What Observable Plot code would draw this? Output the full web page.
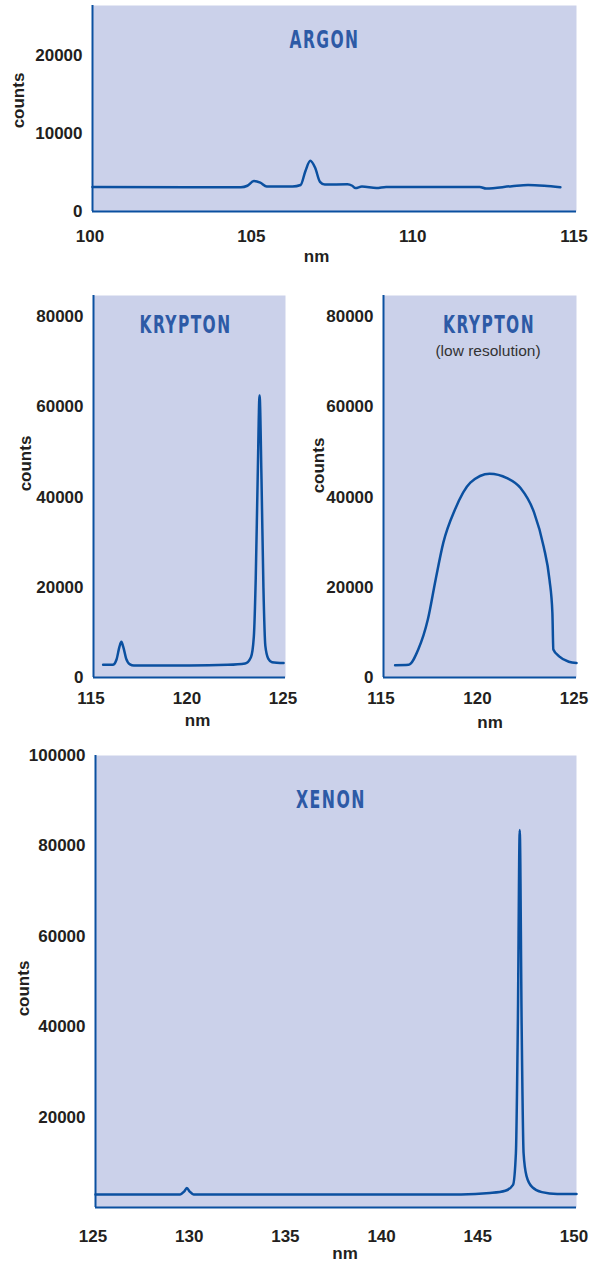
<!DOCTYPE html>
<html>
<head>
<meta charset="utf-8">
<script src="https://cdn.jsdelivr.net/npm/d3@7"></script>
<script src="https://cdn.jsdelivr.net/npm/@observablehq/plot@0.6"></script>
<style>
  html, body { margin: 0; padding: 0; background: #ffffff; }
  #root { position: relative; width: 589px; height: 1263px; overflow: hidden; }
  #root > div { position: absolute; }
</style>
</head>
<body>
<div id="root"></div>
<script>
// ---------- data ----------
const argonNm = [100.0, 104.6, 104.8, 105.0, 105.2, 105.4, 106.2, 106.45, 106.6, 106.75, 106.9, 107.05, 107.2, 107.9, 108.05, 108.15, 108.35, 108.8, 109.1, 112.0, 112.2, 113.0, 113.5, 114.0, 114.5];
const argonCounts = [3150, 3100, 3300, 3900, 3700, 3200, 3200, 3400, 5200, 6500, 5600, 3800, 3450, 3500, 3300, 3000, 3200, 3000, 3150, 3150, 2950, 3250, 3400, 3300, 3100];

const kryptonNm = [115.5, 116.0, 116.2, 116.35, 116.45, 116.55, 116.7, 116.9, 117.1, 120.0, 122.0, 122.9, 123.2, 123.35, 123.45, 123.55, 123.65, 123.75, 123.85, 123.95, 124.1, 124.3, 124.9];
const kryptonCounts = [2800, 2800, 4000, 6800, 7900, 6800, 4200, 2900, 2650, 2650, 2800, 3100, 4500, 9000, 22000, 44000, 62500, 44000, 20000, 7000, 4200, 3400, 3200];

const kryptonLowNm = [115.6, 116.3, 116.8, 117.3, 117.7, 118.1, 118.7, 119.5, 120.5, 121.4, 122.1, 122.8, 123.3, 123.6, 123.75, 123.8, 124.1, 124.6, 125.0];
const kryptonLowCounts = [2700, 2800, 6200, 12900, 21700, 29900, 37200, 43200, 45200, 44200, 42000, 36600, 29000, 21700, 14400, 6200, 4700, 3500, 3200];

const xenonNm = [125.0, 129.4, 129.6, 129.75, 129.9, 130.1, 144.0, 145.5, 146.3, 146.7, 146.85, 146.95, 147.05, 147.15, 147.25, 147.4, 147.7, 148.2, 149.0, 150.0];
const xenonCounts = [2900, 2900, 3500, 4300, 3500, 2900, 2900, 3200, 3700, 5000, 12000, 40000, 83500, 40000, 12000, 7000, 4500, 3400, 3000, 3000];

const argonXTicks = [100, 105, 110, 115];
const argonYTicks = [0, 10000, 20000];
const kryptonXTicks = [115, 120, 125];
const kryptonYTicks = [0, 20000, 40000, 60000, 80000];
const xenonXTicks = [125, 130, 135, 140, 145, 150];
const xenonYTicks = [20000, 40000, 60000, 80000, 100000];

// ---------- style ----------
const BG = "#cbd1ea", LINE = "#0b50a0", TITLE = "#2d5aa6", INK = "#231f20";
const TICKFONT = "'Liberation Sans', Arial, Helvetica, sans-serif";
const TITLEFONT = "'DejaVu Sans Condensed', 'Liberation Sans', sans-serif";

function panel(o) {
  const data = o.nm.map((x, i) => ({x, y: o.counts[i]}));
  const marks = [
    Plot.frame({fill: BG, stroke: "none"}),
    Plot.axisX({ticks: o.xTicks, tickSize: 0, tickPadding: o.xPad, dx: -2.5, label: null, tickFormat: d => String(d), fill: INK}),
    Plot.axisY({ticks: o.yTicks, tickSize: 0, tickPadding: 10, label: null, tickFormat: d => String(d), fill: INK}),
    Plot.ruleX([o.xDomain[0]], {stroke: LINE, strokeWidth: 2}),
    Plot.ruleY([0], {stroke: LINE, strokeWidth: 2}),
    Plot.line(data, {x: "x", y: "y", curve: "monotone-x", stroke: LINE, strokeWidth: 2.5}),
    Plot.text([o.title], {frameAnchor: "top", dx: o.titleDx + 1, dy: o.titleDy, lineAnchor: "middle", textAnchor: "middle",
      fontSize: 24, fontFamily: TITLEFONT, fontWeight: "bold", fill: TITLE}),
    Plot.text(["nm"], {frameAnchor: "bottom", dx: o.nmDx, dy: o.nmDy, lineAnchor: "middle", textAnchor: "middle",
      fontSize: 17, fontWeight: "bold", fill: INK}),
    Plot.text(["counts"], {frameAnchor: "left", dx: o.cDx, dy: o.cDy, rotate: -90, lineAnchor: "middle", textAnchor: "middle",
      fontSize: 17, fontWeight: "bold", fill: INK})
  ];
  if (o.subtitle) {
    marks.push(Plot.text([o.subtitle], {frameAnchor: "top", dx: o.titleDx, dy: o.titleDy + 26, lineAnchor: "middle", textAnchor: "middle",
      fontSize: 15.5, fontWeight: "normal", fill: "#333333"}));
  }
  const chart = Plot.plot({
    width: o.width, height: o.height,
    marginLeft: o.ml, marginRight: o.mr, marginTop: o.mt, marginBottom: o.mb,
    style: {fontFamily: TICKFONT, fontSize: "17px", fontWeight: "bold", color: INK, background: "transparent", overflow: "visible"},
    x: {domain: o.xDomain},
    y: {domain: o.yDomain},
    marks
  });
  // condensed, letter-spaced panel titles
  d3.select(chart).selectAll("text").filter(function () { return this.textContent === o.title; })
    .style("letter-spacing", "2px")
    .attr("textLength", o.titleW).attr("lengthAdjust", "spacingAndGlyphs");
  const wrap = document.createElement("div");
  wrap.style.left = o.left + "px";
  wrap.style.top = o.top + "px";
  wrap.appendChild(chart);
  document.getElementById("root").appendChild(wrap);
}

panel({nm: argonNm, counts: argonCounts, title: "ARGON", titleW: 70,
  left: 0, top: 0, width: 589, height: 270, ml: 92, mr: 13, mt: 5, mb: 59,
  xDomain: [100, 115], yDomain: [0, 26400], xTicks: argonXTicks, yTicks: argonYTicks,
  xPad: 18, titleDx: -11, titleDy: 35, nmDx: -18, nmDy: 45, cDx: -74, cDy: -8});

panel({nm: kryptonNm, counts: kryptonCounts, title: "KRYPTON", titleW: 92,
  left: 0, top: 280, width: 295, height: 460, ml: 93, mr: 10, mt: 15, mb: 63,
  xDomain: [115, 125], yDomain: [0, 84700], xTicks: kryptonXTicks, yTicks: kryptonYTicks,
  xPad: 14, titleDx: -5, titleDy: 30, nmDx: 8, nmDy: 43, cDx: -68, cDy: -23});

panel({nm: kryptonLowNm, counts: kryptonLowCounts, title: "KRYPTON", titleW: 92, subtitle: "(low resolution)",
  left: 295, top: 280, width: 294, height: 460, ml: 88, mr: 13, mt: 15, mb: 63,
  xDomain: [115, 125], yDomain: [0, 84700], xTicks: kryptonXTicks, yTicks: kryptonYTicks,
  xPad: 14, titleDx: 8, titleDy: 30, nmDx: 10, nmDy: 45, cDx: -65, cDy: -21});

panel({nm: xenonNm, counts: xenonCounts, title: "XENON", titleW: 70,
  left: 0, top: 740, width: 589, height: 523, ml: 95, mr: 13, mt: 15, mb: 56,
  xDomain: [125, 150], yDomain: [0, 100000], xTicks: xenonXTicks, yTicks: xenonYTicks,
  xPad: 22, titleDx: -6, titleDy: 45, nmDx: 9, nmDy: 46, cDx: -72, cDy: 7});
</script>
</body>
</html>
